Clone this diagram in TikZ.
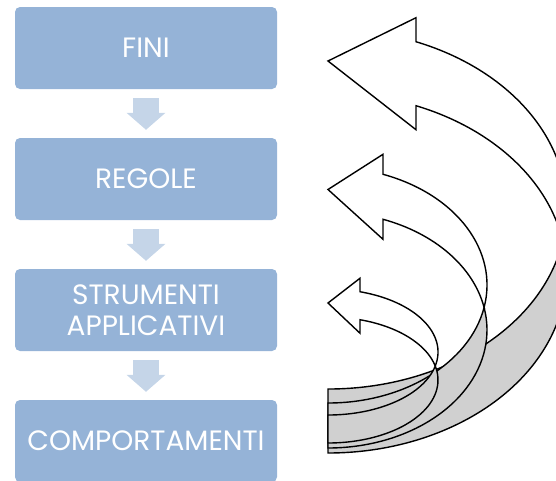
\documentclass[tikz,border=0pt]{standalone}
\usepackage{fontspec}
\newfontfamily\gothic{Poppins}
\usetikzlibrary{arrows.meta}
\definecolor{boxblue}{RGB}{149,179,215}
\definecolor{arrowblue}{RGB}{197,213,232}
\definecolor{bandgray}{RGB}{208,208,208}
\tikzstyle{stage} = [rectangle, rounded corners=5pt, minimum width=262pt, minimum height=82pt, text centered, fill=boxblue, text=white, font=\gothic\fontsize{28}{31}\selectfont]
\tikzstyle{gaparrow} = [line width=26pt, draw=arrowblue, -{Triangle[width=38pt,length=17pt]}, shorten <=9pt, shorten >=8pt]
\tikzstyle{bandback} = [fill=bandgray, draw=black, line width=1.4pt]
\tikzstyle{bandfront} = [fill=white, draw=black, line width=1.4pt]
% curved band arrow: left x, bottom y, thickness, x radius, y radius, head length, head width
\newcommand{\curvarrow}[7]{%
  \pgfmathsetmacro{\caLo}{#2-#5}%
  \pgfmathsetmacro{\caUp}{#2-#5-#3}%
  \pgfmathsetmacro{\caTw}{asin(#3/(2*#5))}%
  \pgfmathsetmacro{\caTa}{acos(#6/#4)}%
  \pgfmathsetmacro{\caDh}{(#7-#3)/2}%
  \pgfmathsetmacro{\caTip}{#2-2*#5-#3-\caDh+#7/2}%
  \pgfmathsetmacro{\caHx}{#1+#6}%
  \pgfmathsetmacro{\caHa}{\caLo-#5*sin(\caTa)}%
  \pgfmathsetmacro{\caHb}{\caUp-#5*sin(\caTa)}%
  \pgfmathsetmacro{\caIx}{#1+#4*cos(\caTw)}%
  \pgfmathsetmacro{\caIy}{\caLo-#3/2}%
  \draw [bandback] (#1,#2) arc[x radius=#4, y radius=#5, start angle=90, end angle=-\caTw]
    arc[x radius=#4, y radius=#5, start angle=\caTw, end angle=90] -- cycle;
  \draw [bandfront] (\caIx,\caIy) arc[x radius=#4, y radius=#5, start angle=\caTw, end angle=-\caTa]
    -- (\caHx,\caHb-\caDh) -- (#1,\caTip) -- (\caHx,\caHa+\caDh) -- (\caHx,\caHa)
    arc[x radius=#4, y radius=#5, start angle=-\caTa, end angle=-\caTw] -- cycle;
}
\begin{document}
\begin{tikzpicture}[x=1pt, y=-1pt, node distance=131pt]
\clip (0,0) rectangle (556,480);
\node (fini) [stage] at (146,48) {FINI};
\node (regole) [stage, below of=fini] {REGOLE};
\node (strumenti) [stage, below of=regole, align=center] {STRUMENTI\\APPLICATIVI};
\node (comport) [stage, below of=strumenti] {COMPORTAMENTI};
\draw [gaparrow] (fini) -- (regole);
\draw [gaparrow] (regole) -- (strumenti);
\draw [gaparrow] (strumenti) -- (comport);
% feedback arrows
\curvarrow{328}{453}{64}{238.5}{180}{88}{112}
\curvarrow{328}{448}{45}{159}{118}{55}{85}
\curvarrow{328}{443}{28}{110}{63}{32}{55}
\end{tikzpicture}
\end{document}
